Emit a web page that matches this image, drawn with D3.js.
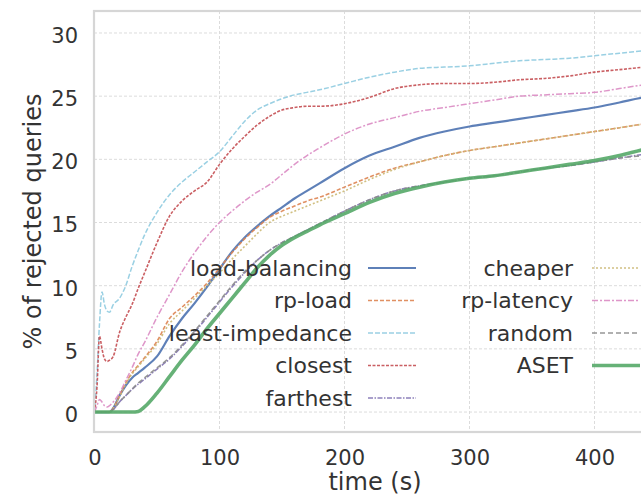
<!DOCTYPE html>
<html>
<head>
<meta charset="utf-8">
<script src="https://cdn.jsdelivr.net/npm/d3@7"></script>
<style>
  html, body { margin: 0; padding: 0; background: #ffffff; }
  svg { display: block; font-family: "DejaVu Sans", sans-serif; }
</style>
</head>
<body>
<svg id="chart" width="641" height="497"></svg>
<script>
// ---- data ----
const times = [0, 2, 4, 6, 8, 10, 12, 15, 20, 25, 30, 35, 40, 50, 60, 70, 80, 90, 100, 110, 120, 130, 140, 150, 160, 170, 180, 200, 220, 240, 260, 280, 300, 320, 340, 360, 380, 400, 420, 440, 450];

const loadBalancing  = [0, 0, 0, 0, 0, 0, 0, 0.3, 1.3, 2.1, 2.7, 3.1, 3.5, 4.4, 6.0, 7.4, 8.6, 9.9, 11.3, 12.7, 13.8, 14.7, 15.5, 16.2, 16.9, 17.5, 18.1, 19.3, 20.3, 21.0, 21.7, 22.2, 22.6, 22.9, 23.2, 23.5, 23.8, 24.1, 24.5, 24.9, 25.0];
const rpLoad         = [0, 0, 0, 0, 0, 0, 0, 0.3, 1.3, 2.3, 3.1, 3.7, 4.3, 5.6, 7.4, 8.3, 9.2, 10.2, 11.4, 12.6, 13.7, 14.6, 15.4, 15.9, 16.3, 16.7, 17.0, 17.8, 18.6, 19.3, 19.8, 20.3, 20.7, 21.0, 21.3, 21.6, 21.9, 22.2, 22.5, 22.8, 22.9];
const leastImpedance = [0, 3.0, 7.0, 9.5, 8.5, 8.0, 7.9, 8.5, 9.0, 10.0, 11.5, 12.8, 14.0, 15.8, 17.2, 18.2, 19.0, 19.8, 20.6, 21.8, 23.0, 23.9, 24.4, 24.8, 25.1, 25.3, 25.5, 26.0, 26.5, 26.9, 27.2, 27.3, 27.4, 27.6, 27.8, 27.9, 28.0, 28.2, 28.4, 28.6, 28.7];
const closest        = [0, 2.0, 6.0, 5.0, 4.2, 4.0, 4.1, 4.4, 6.3, 7.5, 8.5, 9.8, 11.0, 13.4, 15.5, 16.7, 17.5, 18.2, 19.6, 20.8, 21.8, 22.7, 23.4, 23.9, 24.1, 24.2, 24.2, 24.4, 24.9, 25.6, 25.9, 26.0, 26.0, 26.1, 26.3, 26.4, 26.6, 26.9, 27.1, 27.3, 27.4];
const farthest       = [0, 0, 0, 0, 0, 0, 0, 0.2, 0.8, 1.3, 1.8, 2.2, 2.6, 3.4, 4.2, 5.2, 6.3, 7.5, 8.7, 9.9, 11.0, 12.0, 12.8, 13.4, 13.9, 14.4, 14.9, 15.9, 16.8, 17.5, 17.9, 18.2, 18.5, 18.7, 19.0, 19.3, 19.5, 19.8, 20.1, 20.4, 20.5];
const cheaper        = [0, 0, 0, 0, 0, 0, 0, 0.3, 1.2, 2.2, 3.0, 3.6, 4.2, 5.4, 7.0, 8.0, 9.0, 10.0, 11.0, 12.1, 13.1, 14.1, 15.0, 15.5, 15.9, 16.3, 16.7, 17.5, 18.4, 19.2, 19.8, 20.3, 20.7, 21.0, 21.3, 21.6, 21.9, 22.2, 22.5, 22.8, 22.9];
const rpLatency      = [0, 0.5, 1.0, 0.8, 0.5, 0.4, 0.5, 0.8, 1.5, 2.5, 3.5, 4.6, 5.5, 7.5, 9.3, 11.1, 12.6, 13.9, 15.0, 15.9, 16.7, 17.4, 18.0, 18.8, 19.6, 20.3, 20.9, 22.0, 22.8, 23.3, 23.8, 24.1, 24.4, 24.7, 25.0, 25.1, 25.2, 25.3, 25.6, 25.9, 26.0];
const random         = [0, 0, 0, 0, 0, 0, 0, 0.2, 0.8, 1.3, 1.8, 2.3, 2.7, 3.5, 4.3, 5.3, 6.4, 7.6, 8.8, 10.0, 11.1, 12.0, 12.8, 13.4, 13.9, 14.4, 14.9, 15.9, 16.8, 17.5, 17.9, 18.2, 18.5, 18.7, 19.0, 19.3, 19.5, 19.8, 20.1, 20.3, 20.4];
const aset           = [0, 0, 0, 0, 0, 0, 0, 0, 0, 0, 0, 0.05, 0.4, 1.5, 2.8, 4.1, 5.3, 6.6, 7.8, 9.0, 10.2, 11.4, 12.4, 13.2, 13.8, 14.3, 14.8, 15.7, 16.6, 17.3, 17.8, 18.2, 18.5, 18.7, 19.0, 19.3, 19.6, 19.9, 20.3, 20.8, 21.0];

const seriesNames  = ["load-balancing", "rp-load", "least-impedance", "closest", "farthest", "cheaper", "rp-latency", "random", "ASET"];
const seriesValues = [loadBalancing, rpLoad, leastImpedance, closest, farthest, cheaper, rpLatency, random, aset];

const xTicks = [0, 100, 200, 300, 400];
const yTicks = [0, 5, 10, 15, 20, 25, 30];
const xLabel = "time (s)";
const yLabel = "% of rejected queries";

// ---- styles ----
const styles = {
  "load-balancing":  { color: "#4c72b0", width: 2.2, dash: null },
  "rp-load":         { color: "#dd8452", width: 1.6, dash: "4,2" },
  "least-impedance": { color: "#8fcbe0", width: 1.5, dash: "5,2" },
  "closest":         { color: "#c44e52", width: 1.6, dash: "3,1.5" },
  "farthest":        { color: "#8172b3", width: 1.6, dash: "5,1.5,1.5,1.5" },
  "cheaper":         { color: "#ccb974", width: 1.6, dash: "2,2" },
  "rp-latency":      { color: "#da8bc3", width: 1.5, dash: "6,2,2,2" },
  "random":          { color: "#8c8c8c", width: 1.6, dash: "5,3" },
  "ASET":            { color: "#55a868", width: 3.6, dash: null }
};

const svg = d3.select("#chart");
const plotLeft = 94, plotTop = 11, plotBottom = 432, plotRight = 660;

const x = d3.scaleLinear().domain([-0.4, 452.4]).range([plotLeft, plotRight]);
const y = d3.scaleLinear().domain([-1.58, 31.74]).range([plotBottom, plotTop]);

svg.append("defs").append("clipPath").attr("id", "clip")
  .append("rect").attr("x", plotLeft).attr("y", plotTop)
  .attr("width", plotRight - plotLeft).attr("height", plotBottom - plotTop);

// grid
const grid = svg.append("g");
grid.selectAll("line.gx").data(xTicks).join("line")
  .attr("x1", d => x(d)).attr("x2", d => x(d))
  .attr("y1", plotTop).attr("y2", plotBottom)
  .attr("stroke", "#dcdcdc").attr("stroke-width", 1).attr("stroke-dasharray", "3,2");
grid.selectAll("line.gy").data(yTicks).join("line")
  .attr("x1", plotLeft).attr("x2", plotRight)
  .attr("y1", d => y(d)).attr("y2", d => y(d))
  .attr("stroke", "#dcdcdc").attr("stroke-width", 1).attr("stroke-dasharray", "3,2");

// lines
const line = d3.line().x((d, i) => x(times[i])).y(d => y(d)).curve(d3.curveMonotoneX);
const lines = svg.append("g").attr("clip-path", "url(#clip)");
seriesNames.forEach((name, k) => {
  const s = styles[name];
  lines.append("path").datum(seriesValues[k])
    .attr("d", line).attr("fill", "none")
    .attr("stroke", s.color).attr("stroke-width", s.width)
    .attr("stroke-opacity", 0.9)
    .attr("stroke-dasharray", s.dash);
});

// spines
svg.append("rect").attr("x", plotLeft).attr("y", plotTop)
  .attr("width", plotRight - plotLeft).attr("height", plotBottom - plotTop)
  .attr("fill", "none").attr("stroke", "#d6d6d6").attr("stroke-width", 2.2);

// axes (labels only, no tick marks)
const xAxis = d3.axisBottom(x).tickValues(xTicks).tickSize(0).tickPadding(18);
const gx = svg.append("g").attr("transform", `translate(0,${plotBottom})`).call(xAxis);
gx.select(".domain").remove();
gx.selectAll("text").attr("font-size", 21).attr("fill", "#333").attr("font-family", "DejaVu Sans");

const yAxis = d3.axisLeft(y).tickValues(yTicks).tickSize(0).tickPadding(16);
const gy = svg.append("g").attr("transform", `translate(${plotLeft},0)`).call(yAxis);
gy.select(".domain").remove();
gy.selectAll("text").attr("font-size", 21).attr("fill", "#333").attr("font-family", "DejaVu Sans").attr("dy", "0.45em");

svg.append("text").text(xLabel)
  .attr("x", 375).attr("y", 490)
  .attr("text-anchor", "middle").attr("font-size", 24).attr("fill", "#333");

svg.append("text").text(yLabel)
  .attr("transform", `translate(41,${(plotTop + plotBottom) / 2}) rotate(-90)`)
  .attr("text-anchor", "middle").attr("font-size", 24).attr("fill", "#333");

// legend (two columns, no frame)
const legendRowStep = 32.5, legendTop = 268;
const legendCols = [
  { textRight: 352, handleStart: 368, handleEnd: 416 },
  { textRight: 573, handleStart: 592, handleEnd: 640 }
];
const legend = svg.append("g");
seriesNames.forEach((name, k) => {
  const col = legendCols[k < 5 ? 0 : 1];
  const row = k < 5 ? k : k - 5;
  const yy = legendTop + row * legendRowStep;
  const s = styles[name];
  legend.append("text").text(name)
    .attr("x", col.textRight).attr("y", yy).attr("dy", "0.35em")
    .attr("text-anchor", "end").attr("font-size", 22).attr("fill", "#333");
  legend.append("line")
    .attr("x1", col.handleStart).attr("x2", col.handleEnd)
    .attr("y1", yy).attr("y2", yy)
    .attr("stroke", s.color).attr("stroke-width", s.width)
    .attr("stroke-opacity", 0.9)
    .attr("stroke-dasharray", s.dash);
});
</script>
</body>
</html>
